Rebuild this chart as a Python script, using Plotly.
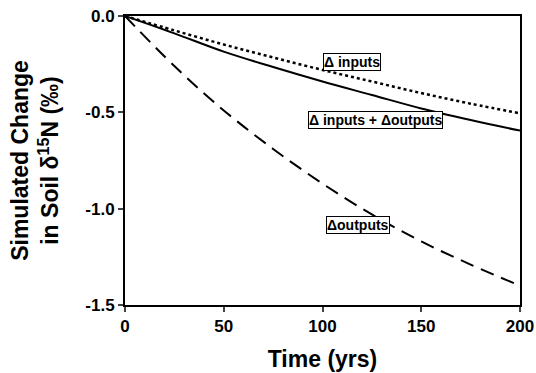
import plotly.graph_objects as go

time_yrs = [0, 25, 50, 75, 100, 125, 150, 175, 200]
d_inputs = [0, -0.075, -0.148, -0.215, -0.28, -0.34, -0.40, -0.455, -0.505]
d_both = [0, -0.09, -0.185, -0.265, -0.34, -0.41, -0.48, -0.54, -0.595]
d_outputs = [0, -0.26, -0.49, -0.69, -0.87, -1.03, -1.17, -1.29, -1.40]

labels = ["\u0394 inputs", "\u0394 inputs + \u0394outputs", "\u0394outputs"]
label_x = [115, 127, 118]
label_y = [-0.241, -0.54, -1.085]

x_ticks = [0, 50, 100, 150, 200]
y_ticks = [0.0, -0.5, -1.0, -1.5]
y_tick_text = ["0.0", "-0.5", "-1.0", "-1.5"]

FONT = "Liberation Sans, Arial, sans-serif"

fig = go.Figure()
fig.add_trace(go.Scatter(x=time_yrs, y=d_inputs, mode="lines", line=dict(color="black", width=2.5, dash="dot"), line_shape="spline"))
fig.add_trace(go.Scatter(x=time_yrs, y=d_both, mode="lines", line=dict(color="black", width=2), line_shape="spline"))
fig.add_trace(go.Scatter(x=time_yrs, y=d_outputs, mode="lines", line=dict(color="black", width=2, dash="14px,8px"), line_shape="spline"))

for t, xv, yv in zip(labels, label_x, label_y):
    fig.add_annotation(x=xv, y=yv, text="<b>" + t + "</b>", showarrow=False,
                       font=dict(family=FONT, size=14, color="black"),
                       bgcolor="white", bordercolor="black", borderwidth=1, borderpad=0)

fig.update_layout(
    width=536, height=373,
    margin=dict(l=125, r=16, t=16, b=68),
    paper_bgcolor="white", plot_bgcolor="white",
    showlegend=False,
    font=dict(family=FONT, color="black"),
)
fig.update_xaxes(
    range=[0, 200], tickvals=x_ticks, ticktext=["<b>%d</b>" % v for v in x_ticks],
    ticks="outside", ticklen=5, tickwidth=2, automargin=False,
    showline=True, linewidth=2, linecolor="black", mirror=True, showgrid=False, zeroline=False,
    tickfont=dict(family=FONT, size=17, color="black"),
    title=dict(text="<b>Time (yrs)</b>", font=dict(family=FONT, size=23, color="black"), standoff=15),
)
fig.update_yaxes(
    range=[-1.5, 0], tickvals=y_ticks, ticktext=["<b>" + s + "</b>" for s in y_tick_text],
    ticks="outside", ticklen=5, tickwidth=2, automargin=False,
    showline=True, linewidth=2, linecolor="black", mirror=True, showgrid=False, zeroline=False,
    tickfont=dict(family=FONT, size=17, color="black"),
    title=dict(text="<b>Simulated Change<br>in Soil \u03b4<sup>15</sup>N (\u2030)</b>", font=dict(family=FONT, size=23, color="black"), standoff=20),
)

fig.write_html("out.html")
